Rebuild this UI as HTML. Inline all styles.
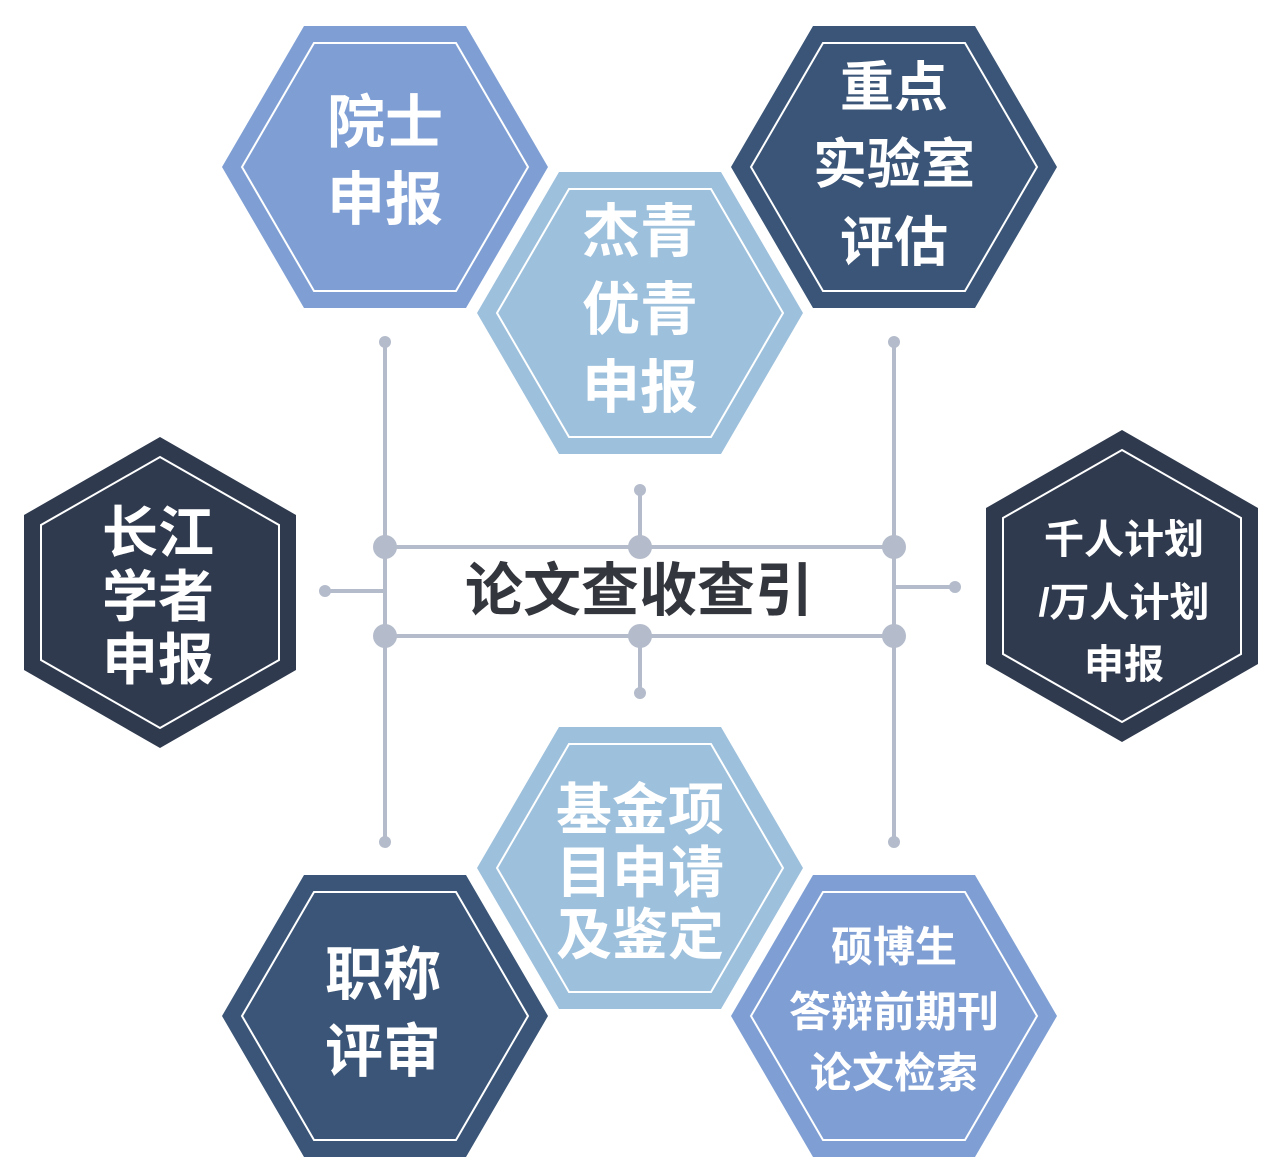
<!DOCTYPE html>
<html><head><meta charset="utf-8"><style>
html,body{margin:0;padding:0;background:#fff;}
svg{display:block}
text{font-family:"Liberation Sans","Noto Sans CJK SC","WenQuanYi Zen Hei",sans-serif;font-weight:bold;text-anchor:middle;dominant-baseline:central}
</style></head><body>
<svg width="1280" height="1172" viewBox="0 0 1280 1172" xmlns="http://www.w3.org/2000/svg">
<g stroke="#b4bccb" stroke-width="4" fill="none">
<line x1="385" y1="342" x2="385" y2="842"/>
<line x1="894" y1="342" x2="894" y2="842"/>
<line x1="385" y1="547" x2="894" y2="547"/>
<line x1="385" y1="636" x2="894" y2="636"/>
<line x1="640" y1="490" x2="640" y2="547"/>
<line x1="640" y1="636" x2="640" y2="693"/>
<line x1="325" y1="591" x2="385" y2="591"/>
<line x1="894" y1="587" x2="955" y2="587"/>
</g>
<g fill="#b4bccb">
<circle cx="385" cy="547" r="12"/><circle cx="640" cy="547" r="12"/><circle cx="894" cy="547" r="12"/>
<circle cx="385" cy="636" r="12"/><circle cx="640" cy="636" r="12"/><circle cx="894" cy="636" r="12"/>
<circle cx="385" cy="342" r="6"/><circle cx="894" cy="342" r="6"/><circle cx="385" cy="842" r="6"/><circle cx="894" cy="842" r="6"/>
<circle cx="640" cy="490" r="6"/><circle cx="640" cy="693" r="6"/><circle cx="325" cy="591" r="6"/><circle cx="955" cy="587" r="6"/>
</g>
<text x="639" y="591" font-size="58" fill="#33363d" font-weight="bold">论文查收查引</text>

<g stroke="#fff" stroke-width="2">
<polygon points="222,167 304,26 466,26 548,167 466,308 304,308" fill="#7f9fd4" stroke="none"/>
<polygon points="242,167 314,43 456,43 528,167 456,291 314,291" fill="none"/>
<polygon points="731,167 813,26 975,26 1057,167 975,308 813,308" fill="#3a5577" stroke="none"/>
<polygon points="751,167 823,43 965,43 1037,167 965,291 823,291" fill="none"/>
<polygon points="477,313 559,172 721,172 803,313 721,454 559,454" fill="#9dc0dc" stroke="none"/>
<polygon points="497,313 569,189 711,189 783,313 711,437 569,437" fill="none"/>
<polygon points="477,868 559,727 721,727 803,868 721,1009 559,1009" fill="#9dc0dc" stroke="none"/>
<polygon points="497,868 569,744 711,744 783,868 711,992 569,992" fill="none"/>
<polygon points="222,1016 304,875 466,875 548,1016 466,1157 304,1157" fill="#3a5577" stroke="none"/>
<polygon points="242,1016 314,892 456,892 528,1016 456,1140 314,1140" fill="none"/>
<polygon points="731,1016 813,875 975,875 1057,1016 975,1157 813,1157" fill="#7f9fd4" stroke="none"/>
<polygon points="751,1016 823,892 965,892 1037,1016 965,1140 823,1140" fill="none"/>
<polygon points="160,437 296,515 296,670 160,748 24,670 24,515" fill="#2f3a4e" stroke="none"/>
<polygon points="160,457 279,525 279,660 160,728 41,660 41,525" fill="none"/>
<polygon points="1122,430 1258,508 1258,664 1122,742 986,664 986,508" fill="#2f3a4e" stroke="none"/>
<polygon points="1122,450 1241,518 1241,654 1122,722 1003,654 1003,518" fill="none"/>
</g>

<g fill="#fff">
<text x="385" y="123" font-size="58">院士</text>
<text x="385" y="200" font-size="58">申报</text>
<text x="894" y="88" font-size="54">重点</text>
<text x="894" y="165" font-size="54">实验室</text>
<text x="894" y="243" font-size="54">评估</text>
<text x="640" y="232" font-size="58">杰青</text>
<text x="640" y="310" font-size="58">优青</text>
<text x="640" y="388" font-size="58">申报</text>
<text x="158" y="533" font-size="56">长江</text>
<text x="158" y="597" font-size="56">学者</text>
<text x="158" y="660" font-size="56">申报</text>
<text x="1124" y="540" font-size="40">千人计划</text>
<text x="1124" y="603" font-size="40">/万人计划</text>
<text x="1124" y="665" font-size="40">申报</text>
<text x="640" y="810" font-size="56">基金项</text>
<text x="640" y="873" font-size="56">目申请</text>
<text x="640" y="935" font-size="56">及鉴定</text>
<text x="383" y="975" font-size="58">职称</text>
<text x="383" y="1052" font-size="58">评审</text>
<text x="894" y="947" font-size="42">硕博生</text>
<text x="894" y="1012" font-size="42">答辩前期刊</text>
<text x="894" y="1073" font-size="42">论文检索</text>
</g>
</svg>
</body></html>
